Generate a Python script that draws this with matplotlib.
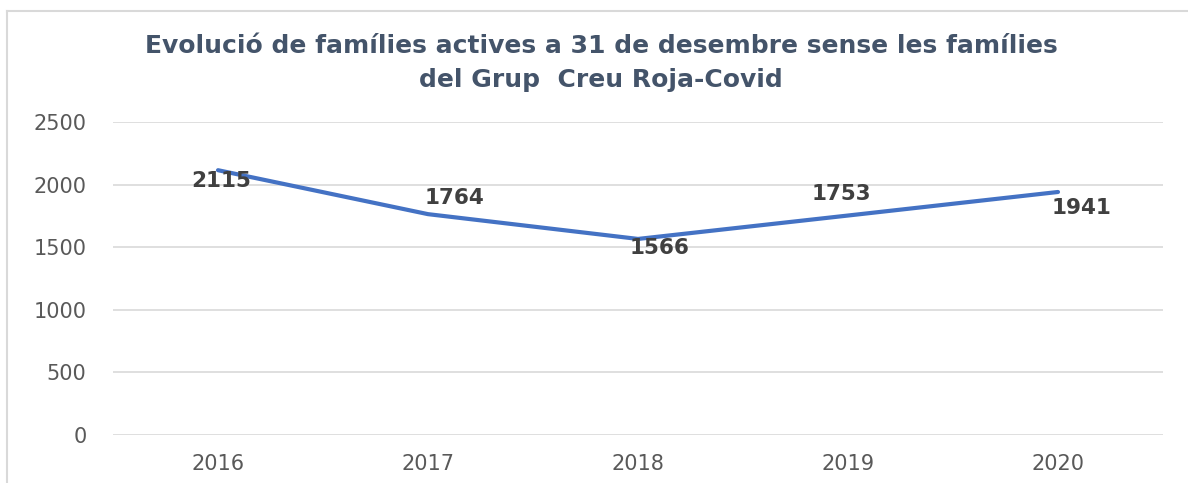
import matplotlib.pyplot as plt
from matplotlib.lines import Line2D

plt.rcParams['font.family'] = ['DejaVu Sans']

# data
years = ['2016', '2017', '2018', '2019', '2020']
families = [2115, 1764, 1566, 1753, 1941]
y_ticks = [0, 500, 1000, 1500, 2000, 2500]

# label offsets (pixels) to mimic the original placement
offsets = [(3, -11), (26, 16), (21, -9), (-7, 22), (23, -16)]

W, H = 1188, 483
fig = plt.figure(figsize=(W / 100, H / 100), dpi=100)
ax = fig.add_axes([113 / W, 48 / H, 1050 / W, 313 / H])

x = range(len(years))
ax.plot(x, families, color='#4472C4', linewidth=3, solid_capstyle='round')

for i, v in enumerate(families):
    ax.annotate(str(v), (i, v), xytext=offsets[i], textcoords='offset pixels',
                ha='center', va='center', fontsize=15.5, fontweight='bold',
                color='#404040')

ax.set_xlim(-0.5, len(years) - 0.5)
ax.set_ylim(0, 2500)
ax.set_xticks(list(x))
ax.set_xticklabels(years)
ax.set_yticks(y_ticks)
ax.tick_params(axis='both', length=0, labelsize=15, labelcolor='#595959')
ax.tick_params(axis='y', pad=19)
ax.tick_params(axis='x', pad=14)
ax.grid(axis='y', color='#D9D9D9', linewidth=1.2)
ax.set_axisbelow(True)
for s in ax.spines.values():
    s.set_visible(False)

fig.text(601 / W, 1 - 63 / H,
         'Evolució de famílies actives a 31 de desembre sense les famílies\ndel Grup  Creu Roja-Covid',
         ha='center', va='center', fontsize=18, fontweight='bold',
         color='#44546A', linespacing=1.5)

# chart frame (only top and left visible in the crop)
fig.add_artist(Line2D([7 / W, 1.01], [1 - 11 / H, 1 - 11 / H], color='#D9D9D9', lw=1.5,
                      transform=fig.transFigure))
fig.add_artist(Line2D([7 / W, 7 / W], [-0.01, 1 - 11 / H], color='#D9D9D9', lw=1.5,
                      transform=fig.transFigure))

fig.savefig('out.png', dpi=100)
